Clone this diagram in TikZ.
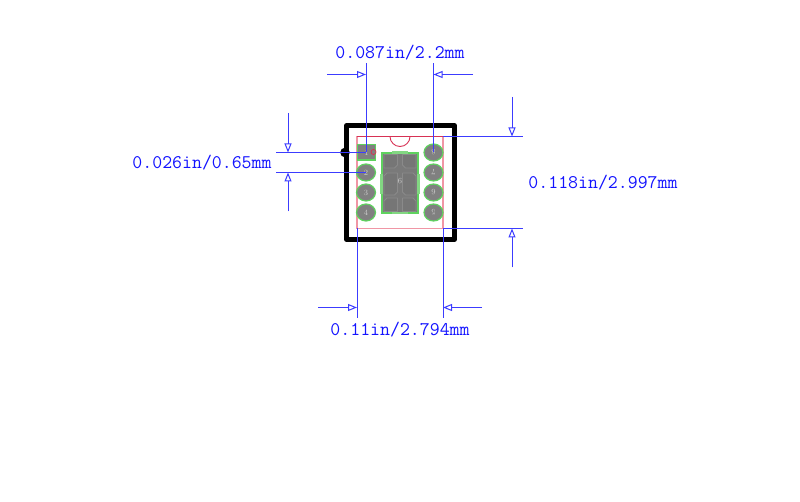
\documentclass[tikz,border=0pt]{standalone}
\usepackage{amsmath}
\usetikzlibrary{arrows.meta,shapes.geometric}
\definecolor{dimblue}{RGB}{60,60,255}
\definecolor{textblue}{RGB}{20,20,255}
\definecolor{padgreen}{RGB}{95,210,95}
\definecolor{padlight}{RGB}{130,215,130}
\definecolor{padgray}{RGB}{128,128,128}
\definecolor{coregray}{RGB}{122,122,122}
\definecolor{cellgray}{RGB}{118,118,118}
\definecolor{celledge}{RGB}{138,138,138}
\definecolor{outlinered}{RGB}{240,150,165}
\definecolor{topred}{RGB}{215,50,85}
\tikzset{
	dimline/.style={draw=dimblue,line width=1pt},
	dimarrow/.style={dimline,-{Triangle[open,length=9pt,width=7pt]}},
	dimtext/.style={text=textblue,font=\fontsize{19.3}{20}\ttfamily,inner sep=0pt},
	padlabel/.style={inner sep=0pt,text=white!80!black,font=\fontsize{8}{8}\selectfont},
	pad/.style={padlabel,draw=padgreen,fill=padgray,line width=1.2pt,ellipse,minimum width=19pt,minimum height=17pt},
	cell/.style={fill=cellgray,draw=celledge,line width=0.8pt,line join=round},
}
\begin{document}
\begin{tikzpicture}[x=1pt,y=-1pt]
		\useasboundingbox (0,0) rectangle (800,502);
		% body and pin 1 mark
		\draw[line width=4.5pt,line join=round] (346.5,125.5) rectangle (454.5,239.5);
		\draw[outlinered,line width=1.5pt] (357,136.5) rectangle (443,228.5);
		\draw[topred,line width=1pt] (357,136.5) -- (443,136.5);
		\draw[topred,line width=0.9pt] (410,136.5) arc (0:180:10 and 10);
		
		% center pad
		\node (pad9) [at= {(400,183)}, draw=padgreen, fill=coregray, line width=2.4pt, minimum width=35.5pt, minimum height=60pt, padlabel] {};
		\draw[padlight,line width=2.4pt] (392,152.5) -- (408,152.5) (392,213) -- (408,213) (381.5,174) -- (381.5,194) (418.5,174) -- (418.5,194);
		\draw[cell] (384,154.5) -- (397.5,154.5) -- (397.5,165) -- (394.5,168) -- (384,168) -- cycle;
		\draw[cell] (416,154.5) -- (402.5,154.5) -- (402.5,165) -- (405.5,168) -- (416,168) -- cycle;
		\draw[cell] (384,176) -- (387,173) -- (397.5,173) -- (397.5,192) -- (394.5,195) -- (384,195) -- cycle;
		\draw[cell] (416,176) -- (413,173) -- (402.5,173) -- (402.5,192) -- (405.5,195) -- (416,195) -- cycle;
		\draw[cell] (384,201) -- (387,198) -- (397.5,198) -- (397.5,211.5) -- (384,211.5) -- cycle;
		\draw[cell] (416,201) -- (413,198) -- (402.5,198) -- (402.5,211.5) -- (416,211.5) -- cycle;
		\node (pad9text) [at= {(400,181.5)}, padlabel] {\rotatebox{180}{9}};
		
		% pads
		\node (pad1) [at= {(366.5,152.5)}, draw=padgreen, fill=padgray, line width=1.5pt, minimum width=18pt, minimum height=15.5pt, padlabel] {1};
		\node (pad2) [at= {(366,172.5)}, pad] {2};
		\node (pad3) [at= {(366,192.5)}, pad] {3};
		\node (pad4) [at= {(366,212.5)}, pad] {4};
		\node (pad8) [at= {(433.5,152.5)}, pad] {\rotatebox{180}{8}};
		\node (pad7) [at= {(433.5,172.5)}, pad] {\rotatebox{180}{7}};
		\node (pad6) [at= {(433.5,192.5)}, pad] {\rotatebox{180}{6}};
		\node (pad5) [at= {(433.5,212.5)}, pad] {\rotatebox{180}{5}};
		\draw[topred,line width=0.8pt] (373.5,152) circle (2.5);
		\fill (345,152.5) circle (4.8);
		
		% pitch, top
		\coordinate (pitchL) at (366,152.5);
		\coordinate (pitchR) at (433.5,152.5);
		\draw[dimline] (pitchL) -- (366,63);
		\draw[dimline] (pitchR) -- (433.5,63);
		\draw[dimarrow] (327,74.5) -- (366,74.5);
		\draw[dimarrow] (473,74.5) -- (433.5,74.5);
		\node (pitchtext) [at= {(400,53)}, dimtext] {0.087in/2.2mm};
		
		% row spacing, left
		\draw[dimline] (276,152.5) -- (pitchL);
		\draw[dimline] (276,172.5) -- (pad2.center);
		\draw[dimarrow] (288,113) -- (288,152.5);
		\draw[dimarrow] (288,211.5) -- (288,172.5);
		\node (rowtext) [at= {(202,163)}, dimtext] {0.026in/0.65mm};
		
		% height, right
		\draw[dimline] (443,136.5) -- (523,136.5);
		\draw[dimline] (443,228.5) -- (523,228.5);
		\draw[dimarrow] (512,97) -- (512,136.5);
		\draw[dimarrow] (512,267.5) -- (512,228.5);
		\node (heighttext) [at= {(603,183)}, dimtext] {0.118in/2.997mm};
		
		% width, bottom
		\draw[dimline] (357,228.5) -- (357,318);
		\draw[dimline] (443,228.5) -- (443,318);
		\draw[dimarrow] (318,307.5) -- (357,307.5);
		\draw[dimarrow] (482,307.5) -- (443,307.5);
		\node (widthtext) [at= {(400,330)}, dimtext] {0.11in/2.794mm};
\end{tikzpicture}
\end{document}
